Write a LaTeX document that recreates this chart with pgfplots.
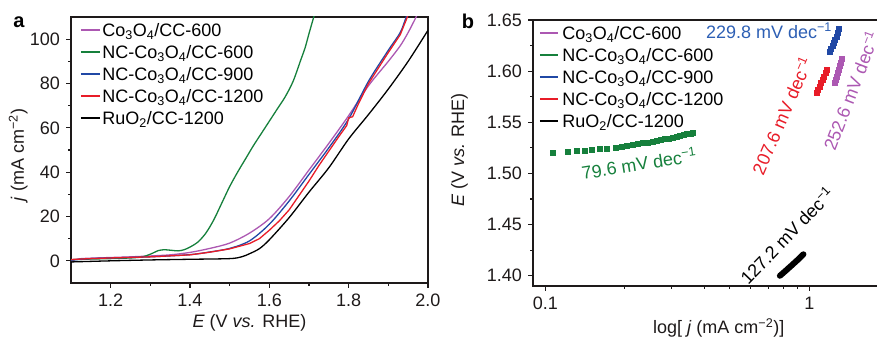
\documentclass[border=0pt]{standalone}
\usepackage{fontspec}
\setmainfont{Liberation Sans}
\usepackage{pgfplots}
\pgfplotsset{compat=1.18}
\definecolor{cpur}{RGB}{172,88,178}
\definecolor{cgreen}{RGB}{22,128,60}
\definecolor{cblue}{RGB}{32,72,165}
\definecolor{cred}{RGB}{232,28,40}
\definecolor{cblueT}{RGB}{45,95,180}
\definecolor{ctxt}{RGB}{30,26,26}
\pgfplotsset{
  mystyle/.style={
    scale only axis,
    axis line style={line width=1.3pt, ctxt},
    tick align=outside,
    xtick pos=left, ytick pos=left,
    major tick length=5pt, minor tick length=3pt,
    every tick/.style={line width=1.1pt, ctxt},
    /pgf/number format/assume math mode=true,
    tick label style={font=\fontsize{18}{21.6}\selectfont, text=ctxt},
    label style={font=\fontsize{18}{21.6}\selectfont, text=ctxt},
    legend cell align=left,
    legend style={draw=none, fill=none, inner sep=0pt, row sep=0pt,
      font=\fontsize{18}{21.6}\selectfont,
      nodes={inner sep=1.5pt, text height=16pt, text depth=3pt}},
  }
}
\begin{document}
\fontsize{18}{21.6}\selectfont
\begin{tikzpicture}[x=1pt,y=1pt]
\path[use as bounding box] (0,0) rectangle (877,339);
\node[font=\bfseries\fontsize{20}{22}\selectfont] at (19,317) {a};
\node[font=\bfseries\fontsize{20}{22}\selectfont] at (468,318) {b};
% ---------------- panel a
\begin{axis}[mystyle,
  at={(71pt,56pt)}, anchor=south west, width=357pt, height=266pt,
  xmin=1.1, xmax=2.0, ymin=-10, ymax=110,
  xtick={1.2,1.4,1.6,1.8,2.0}, minor x tick num=1,
  ytick={0,20,40,60,80,100}, minor y tick num=1,
  xticklabel style={/pgf/number format/.cd, fixed, fixed zerofill, precision=1},
  xlabel={\textit{E} (V \textit{vs.} RHE)},
  xlabel style={at={(axis description cs:0.5,-0.15)}, anchor=center},
  ylabel={\textit{j} (mA cm\textsuperscript{−2})},
  ylabel style={at={(axis description cs:-0.148,0.481)}, anchor=center},
  legend style={at={(0.024,0.993)}, anchor=north west},
  legend image code/.code={\draw[#1, line width=2pt] (0pt,0pt) -- (19pt,0pt);},
]
\addplot[cpur, line width=1.3pt, smooth] coordinates {
(1.10,0.0) (1.12,0.9) (1.15,1.2) (1.20,1.5) (1.25,1.8) (1.30,2.2) (1.35,2.7)
(1.40,3.8) (1.45,5.6) (1.50,8.0) (1.55,12.5) (1.60,19) (1.65,29) (1.70,41)
(1.75,53) (1.80,65.5) (1.85,79) (1.90,90) (1.93,97) (1.95,103) (1.97,110) (1.98,114)};
\addlegendentry{Co\textsubscript{3}O\textsubscript{4}/CC-600}
\addplot[cgreen, line width=1.3pt, smooth] coordinates {
(1.10,0.5) (1.15,0.8) (1.20,1.0) (1.25,1.3) (1.28,1.8) (1.30,3.0) (1.32,4.6)
(1.335,5.0) (1.35,4.8) (1.37,4.5) (1.385,5.0) (1.40,6.2) (1.42,8.5) (1.44,12.5)
(1.46,18.5) (1.48,26) (1.50,33.5) (1.52,40) (1.54,46) (1.56,52) (1.58,57.5)
(1.60,63) (1.62,68.5) (1.64,74) (1.66,81) (1.68,91) (1.69,96) (1.70,102.5) (1.712,110) (1.72,115)};
\addlegendentry{NC-Co\textsubscript{3}O\textsubscript{4}/CC-600}
\addplot[cblue, line width=1.3pt, smooth] coordinates {
(1.10,0.3) (1.15,1.0) (1.20,1.3) (1.30,1.8) (1.40,2.8) (1.45,4.0) (1.50,5.6)
(1.55,9.0) (1.60,16.5) (1.65,27) (1.70,39) (1.75,51) (1.80,64) (1.85,81)
(1.90,95) (1.93,103) (1.945,110) (1.955,115)};
\addlegendentry{NC-Co\textsubscript{3}O\textsubscript{4}/CC-900}
\addplot[cred, line width=1.3pt] coordinates {
(1.10,0.6) (1.15,1.0) (1.20,1.3) (1.30,1.8) (1.40,2.7) (1.45,3.9) (1.50,5.4)
(1.55,7.8) (1.575,10) (1.60,13.8) (1.625,18) (1.65,23) (1.675,29.5) (1.70,36)
(1.725,43) (1.75,49.5) (1.775,56) (1.795,61) (1.80,64.5) (1.81,65) (1.825,71)
(1.85,80) (1.875,87) (1.90,94) (1.93,102) (1.948,110) (1.955,114)};
\addlegendentry{NC-Co\textsubscript{3}O\textsubscript{4}/CC-1200}
\addplot[black, line width=1.3pt, smooth] coordinates {
(1.10,-0.5) (1.20,0.0) (1.30,0.4) (1.40,0.7) (1.50,1.0) (1.53,1.8) (1.55,3.2)
(1.575,5.5) (1.60,9.5) (1.65,19.5) (1.70,31) (1.75,42) (1.80,55) (1.85,66)
(1.90,77.5) (1.95,90) (2.00,104)};
\addlegendentry{RuO\textsubscript{2}/CC-1200}
\end{axis}
% ---------------- panel b
\begin{axis}[mystyle,
  at={(533pt,53pt)}, anchor=south west, width=347pt, height=266pt,
  xmode=log, xmin=0.0898, xmax=1.853, ymin=1.39, ymax=1.65,
  clip=false,
  xtick={0.1,1}, xticklabels={0.1,1},
  minor xtick={0.2,0.3,0.4,0.5,0.6,0.7,0.8,0.9},
  ytick={1.40,1.45,1.50,1.55,1.60,1.65}, minor y tick num=1,
  yticklabel style={/pgf/number format/.cd, fixed, fixed zerofill, precision=2},
  xlabel={log[ \textit{j} (mA cm\textsuperscript{−2})]},
  xlabel style={at={(axis description cs:0.535,-0.158)}, anchor=center},
  ylabel={\textit{E} (V \textit{vs.} RHE)},
  ylabel style={at={(axis description cs:-0.212,0.511)}, anchor=center},
  legend style={at={(0.016,0.993)}, anchor=north west},
  legend image code/.code={\draw[#1, line width=2pt] (0pt,0pt) -- (18pt,0pt); \path (21pt,0pt);},
]
\addlegendimage{cpur}\addlegendentry{Co\textsubscript{3}O\textsubscript{4}/CC-600}
\addlegendimage{cgreen}\addlegendentry{NC-Co\textsubscript{3}O\textsubscript{4}/CC-600}
\addlegendimage{cblue}\addlegendentry{NC-Co\textsubscript{3}O\textsubscript{4}/CC-900}
\addlegendimage{cred}\addlegendentry{NC-Co\textsubscript{3}O\textsubscript{4}/CC-1200}
\addlegendimage{black}\addlegendentry{RuO\textsubscript{2}/CC-1200}
\addplot[forget plot, only marks, mark=square*, mark size=2.5pt, cgreen] coordinates {
(0.107,1.5205) (0.122,1.5212) (0.132,1.5218) (0.141,1.5224) (0.150,1.5230)
(0.161,1.5238) (0.171,1.5246) (0.184,1.5256) (0.194,1.5264) (0.204,1.5272)
(0.214,1.5280) (0.224,1.5288) (0.234,1.5296) (0.244,1.5304) (0.254,1.5312)
(0.264,1.5320) (0.274,1.5328) (0.284,1.5336) (0.294,1.5344) (0.304,1.5352)
(0.314,1.5360) (0.324,1.5368) (0.334,1.5376) (0.344,1.5384) (0.354,1.5392) (0.362,1.5400)};
\addplot[forget plot, only marks, mark=square*, mark size=2.5pt, cblue] coordinates {
(1.197,1.6186) (1.210,1.6215) (1.224,1.6245) (1.238,1.6275) (1.252,1.6305)
(1.266,1.6340) (1.281,1.6378) (1.296,1.6416)};
\addplot[forget plot, only marks, mark=square*, mark size=2.5pt, cred] coordinates {
(1.067,1.5787) (1.080,1.5818) (1.094,1.5850) (1.108,1.5883) (1.122,1.5916)
(1.136,1.5950) (1.150,1.5983) (1.164,1.6016)};
\addplot[forget plot, only marks, mark=square*, mark size=2.5pt, cpur] coordinates {
(1.251,1.5885) (1.261,1.5915) (1.272,1.5948) (1.283,1.5982) (1.294,1.6016)
(1.305,1.6050) (1.316,1.6085) (1.327,1.6121)};
\addplot[forget plot, black, line width=6pt, line cap=round] coordinates {
(0.774,1.4000) (0.795,1.4026) (0.817,1.4053) (0.839,1.4080) (0.862,1.4107)
(0.884,1.4133) (0.906,1.4158) (0.928,1.4184) (0.950,1.4210)};
\node[text=cblueT] at (axis cs:0.7035,1.6394) {229.8 mV dec\textsuperscript{−1}};
\node[text=cgreen, rotate=9] at (axis cs:0.2264,1.510) {79.6 mV dec\textsuperscript{−1}};
\node[text=cred, rotate=66.5] at (axis cs:0.786,1.5567) {207.6 mV dec\textsuperscript{−1}};
\node[text=cpur, rotate=69] at (axis cs:1.436,1.5812) {252.6 mV dec\textsuperscript{−1}};
\node[text=black, rotate=46] at (axis cs:0.821,1.4396) {127.2 mV dec\textsuperscript{−1}};
\end{axis}
\end{tikzpicture}
\end{document}
